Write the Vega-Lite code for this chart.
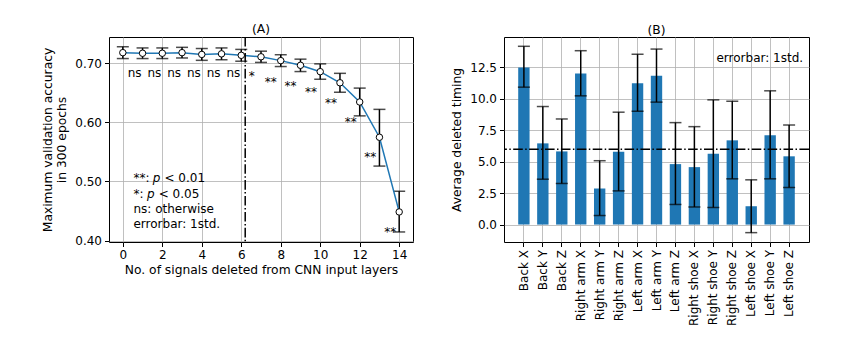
{
  "$schema": "https://vega.github.io/schema/vega-lite/v6.json",
  "padding": {"left": 40, "top": 22, "right": 5, "bottom": 5},
  "background": "white",
  "config": {
    "font": "DejaVu Sans",
    "view": {"stroke": "black", "strokeWidth": 1},
    "axis": {
      "grid": true, "gridColor": "#b0b0b0", "gridWidth": 0.8,
      "domain": false, "tickColor": "black", "tickSize": 4.5, "tickWidth": 1,
      "labelFontSize": 12, "labelColor": "black", "labelPadding": 3,
      "titleFontSize": 12.3, "titleFontWeight": "normal", "titleColor": "black"
    },
    "title": {"fontSize": 12.3, "fontWeight": "normal", "color": "black", "offset": 1}
  },
  "datasets": {
    "acc": [
      {"n": 0, "mean": 0.718, "lo": 0.708, "hi": 0.728},
      {"n": 1, "mean": 0.717, "lo": 0.708, "hi": 0.726},
      {"n": 2, "mean": 0.717, "lo": 0.708, "hi": 0.726},
      {"n": 3, "mean": 0.718, "lo": 0.709, "hi": 0.727},
      {"n": 4, "mean": 0.715, "lo": 0.705, "hi": 0.725},
      {"n": 5, "mean": 0.716, "lo": 0.706, "hi": 0.726},
      {"n": 6, "mean": 0.7135, "lo": 0.7035, "hi": 0.7235},
      {"n": 7, "mean": 0.711, "lo": 0.7015, "hi": 0.7205},
      {"n": 8, "mean": 0.7045, "lo": 0.6945, "hi": 0.7145},
      {"n": 9, "mean": 0.6966, "lo": 0.686, "hi": 0.707},
      {"n": 10, "mean": 0.6858, "lo": 0.673, "hi": 0.699},
      {"n": 11, "mean": 0.667, "lo": 0.651, "hi": 0.683},
      {"n": 12, "mean": 0.6345, "lo": 0.611, "hi": 0.658},
      {"n": 13, "mean": 0.5748, "lo": 0.526, "hi": 0.622},
      {"n": 14, "mean": 0.4484, "lo": 0.4145, "hi": 0.4834}
    ],
    "sig": [
      {"x": 0.6, "y": 0.677, "label": "ns"},
      {"x": 1.6, "y": 0.677, "label": "ns"},
      {"x": 2.6, "y": 0.677, "label": "ns"},
      {"x": 3.6, "y": 0.677, "label": "ns"},
      {"x": 4.6, "y": 0.677, "label": "ns"},
      {"x": 5.6, "y": 0.677, "label": "ns"},
      {"x": 6.53, "y": 0.672, "label": "*"},
      {"x": 7.5, "y": 0.662, "label": "**"},
      {"x": 8.5, "y": 0.655, "label": "**"},
      {"x": 9.53, "y": 0.645, "label": "**"},
      {"x": 10.54, "y": 0.626, "label": "**"},
      {"x": 11.55, "y": 0.594, "label": "**"},
      {"x": 12.53, "y": 0.534, "label": "**"},
      {"x": 13.55, "y": 0.407, "label": "**"}
    ],
    "legendPlain": [
      {"x": 0.54, "y": 0.4983, "t": "**:"},
      {"x": 2.11, "y": 0.4983, "t": "< 0.01"},
      {"x": 0.54, "y": 0.4721, "t": "*:"},
      {"x": 1.82, "y": 0.4721, "t": "< 0.05"},
      {"x": 0.54, "y": 0.4459, "t": "ns: otherwise"},
      {"x": 0.54, "y": 0.4213, "t": "errorbar: 1std."}
    ],
    "legendItalic": [
      {"x": 1.52, "y": 0.4983, "t": "p"},
      {"x": 1.23, "y": 0.4721, "t": "p"}
    ],
    "timing": [
      {"sig": "Back X", "mean": 12.5, "lo": 10.93, "hi": 14.18},
      {"sig": "Back Y", "mean": 6.46, "lo": 3.61, "hi": 9.39},
      {"sig": "Back Z", "mean": 5.82, "lo": 3.27, "hi": 8.40},
      {"sig": "Right arm X", "mean": 12.02, "lo": 10.24, "hi": 13.83},
      {"sig": "Right arm Y", "mean": 2.87, "lo": 0.72, "hi": 5.08},
      {"sig": "Right arm Z", "mean": 5.79, "lo": 2.68, "hi": 8.94},
      {"sig": "Left arm X", "mean": 11.25, "lo": 9.02, "hi": 13.54},
      {"sig": "Left arm Y", "mean": 11.84, "lo": 9.74, "hi": 13.96},
      {"sig": "Left arm Z", "mean": 4.81, "lo": 1.6, "hi": 8.11},
      {"sig": "Right shoe X", "mean": 4.57, "lo": 1.40, "hi": 7.79},
      {"sig": "Right shoe Y", "mean": 5.64, "lo": 1.36, "hi": 9.92},
      {"sig": "Right shoe Z", "mean": 6.70, "lo": 3.64, "hi": 9.81},
      {"sig": "Left shoe X", "mean": 1.46, "lo": -0.64, "hi": 3.56},
      {"sig": "Left shoe Y", "mean": 7.10, "lo": 3.64, "hi": 10.64},
      {"sig": "Left shoe Z", "mean": 5.43, "lo": 2.95, "hi": 7.92}
    ]
  },
  "hconcat": [
    {
      "width": 304,
      "height": 205,
      "title": "(A)",
      "layer": [
        {
          "data": {"name": "acc"},
          "mark": {"type": "rule", "color": "black", "strokeWidth": 1.5},
          "encoding": {
            "x": {"field": "n", "type": "quantitative",
                  "scale": {"domain": [-0.7, 14.7], "nice": false, "zero": false},
                  "axis": {"values": [0, 2, 4, 6, 8, 10, 12, 14], "title": "No. of signals deleted from CNN input layers", "titlePadding": 3}},
            "y": {"field": "lo", "type": "quantitative",
                  "scale": {"domain": [0.3975, 0.7445], "nice": false, "zero": false},
                  "axis": {"values": [0.40, 0.45, 0.50, 0.55, 0.60, 0.65, 0.70], "format": ".2f", "title": ["Maximum validation accuracy", "in 300 epochs"], "titlePadding": 6}},
            "y2": {"field": "hi"}
          }
        },
        {
          "data": {"name": "acc"},
          "mark": {"type": "tick", "orient": "horizontal", "color": "black", "size": 12, "thickness": 1.5},
          "encoding": {
            "x": {"field": "n", "type": "quantitative"},
            "y": {"field": "lo", "type": "quantitative"}
          }
        },
        {
          "data": {"name": "acc"},
          "mark": {"type": "tick", "orient": "horizontal", "color": "black", "size": 12, "thickness": 1.5},
          "encoding": {
            "x": {"field": "n", "type": "quantitative"},
            "y": {"field": "hi", "type": "quantitative"}
          }
        },
        {
          "data": {"name": "acc"},
          "mark": {"type": "line", "color": "#1f77b4", "strokeWidth": 1.5},
          "encoding": {
            "x": {"field": "n", "type": "quantitative"},
            "y": {"field": "mean", "type": "quantitative"}
          }
        },
        {
          "data": {"name": "acc"},
          "mark": {"type": "point", "shape": "circle", "filled": true, "fill": "white", "stroke": "black", "strokeWidth": 1, "size": 42, "opacity": 1},
          "encoding": {
            "x": {"field": "n", "type": "quantitative"},
            "y": {"field": "mean", "type": "quantitative"}
          }
        },
        {
          "data": {"values": [{"v": 6.2}]},
          "mark": {"type": "rule", "color": "black", "strokeWidth": 1.5, "strokeDash": [9.6, 2.4, 1.5, 2.4]},
          "encoding": {"x": {"field": "v", "type": "quantitative"}}
        },
        {
          "data": {"name": "sig"},
          "mark": {"type": "text", "fontSize": 12, "color": "black", "align": "center", "baseline": "alphabetic"},
          "encoding": {
            "x": {"field": "x", "type": "quantitative"},
            "y": {"field": "y", "type": "quantitative"},
            "text": {"field": "label"}
          }
        },
        {
          "data": {"name": "legendPlain"},
          "mark": {"type": "text", "fontSize": 12, "color": "black", "align": "left", "baseline": "alphabetic"},
          "encoding": {
            "x": {"field": "x", "type": "quantitative"},
            "y": {"field": "y", "type": "quantitative"},
            "text": {"field": "t"}
          }
        },
        {
          "data": {"name": "legendItalic"},
          "mark": {"type": "text", "fontSize": 12, "fontStyle": "italic", "color": "black", "align": "left", "baseline": "alphabetic"},
          "encoding": {
            "x": {"field": "x", "type": "quantitative"},
            "y": {"field": "y", "type": "quantitative"},
            "text": {"field": "t"}
          }
        }
      ]
    },
    {
      "width": 305,
      "height": 205,
      "title": "(B)",
      "layer": [
        {
          "data": {"name": "timing"},
          "mark": {"type": "bar", "color": "#1f77b4"},
          "encoding": {
            "x": {"field": "sig", "type": "nominal", "sort": null,
                  "scale": {"paddingInner": 0.4, "paddingOuter": 0.75},
                  "axis": {"title": null, "labelAngle": 270, "bandPosition": 0.5}},
            "y": {"field": "mean", "type": "quantitative",
                  "scale": {"domain": [-1.385, 14.92], "nice": false, "zero": false},
                  "axis": {"values": [0, 2.5, 5, 7.5, 10, 12.5], "format": ".1f", "title": "Average deleted timing", "titlePadding": 6}}
          }
        },
        {
          "data": {"name": "timing"},
          "mark": {"type": "rule", "color": "black", "strokeWidth": 1.5},
          "encoding": {
            "x": {"field": "sig", "type": "nominal", "sort": null},
            "y": {"field": "lo", "type": "quantitative"},
            "y2": {"field": "hi"}
          }
        },
        {
          "data": {"name": "timing"},
          "mark": {"type": "tick", "orient": "horizontal", "color": "black", "size": 12, "thickness": 1.5},
          "encoding": {
            "x": {"field": "sig", "type": "nominal", "sort": null},
            "y": {"field": "lo", "type": "quantitative"}
          }
        },
        {
          "data": {"name": "timing"},
          "mark": {"type": "tick", "orient": "horizontal", "color": "black", "size": 12, "thickness": 1.5},
          "encoding": {
            "x": {"field": "sig", "type": "nominal", "sort": null},
            "y": {"field": "hi", "type": "quantitative"}
          }
        },
        {
          "data": {"values": [{"v": 6.0}]},
          "mark": {"type": "rule", "color": "black", "strokeWidth": 1.5, "strokeDash": [9.6, 2.4, 1.5, 2.4]},
          "encoding": {"y": {"field": "v", "type": "quantitative"}}
        },
        {
          "data": {"values": [{"s": "Left shoe Z", "v": 13.25, "t": "errorbar: 1std."}]},
          "mark": {"type": "text", "fontSize": 12, "color": "black", "align": "right", "baseline": "middle", "dx": 14},
          "encoding": {
            "x": {"field": "s", "type": "nominal", "sort": null},
            "y": {"field": "v", "type": "quantitative"},
            "text": {"field": "t"}
          }
        }
      ]
    }
  ],
  "spacing": 36
}
